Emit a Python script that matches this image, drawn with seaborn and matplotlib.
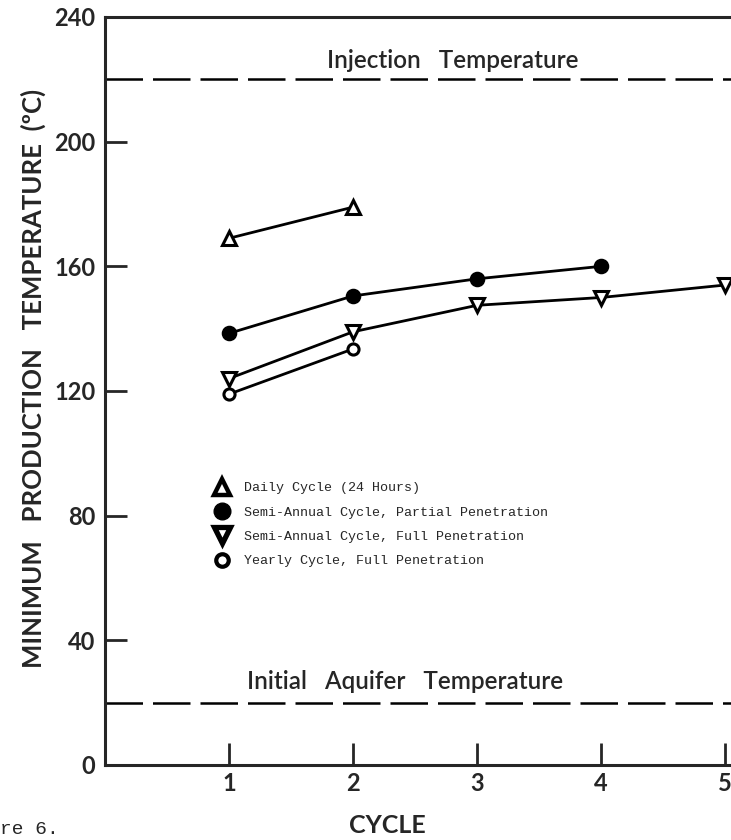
import seaborn as sns
import matplotlib.pyplot as plt
from matplotlib.lines import Line2D

# values
daily_x = [1, 2]
daily_y = [169, 179]
semi_partial_x = [1, 2, 3, 4]
semi_partial_y = [138.5, 150.5, 156, 160]
semi_full_x = [1, 2, 3, 4, 5]
semi_full_y = [124, 139, 147.5, 150, 154]
yearly_x = [1, 2]
yearly_y = [119, 133.5]

injection_temp = 220
aquifer_temp = 20

legend_labels = ["Daily Cycle (24 Hours)",
                 "Semi-Annual Cycle, Partial Penetration",
                 "Semi-Annual Cycle, Full Penetration",
                 "Yearly Cycle, Full Penetration"]

sns.set_style("ticks")
plt.rcParams['font.family'] = ['Lato', 'DejaVu Sans']

fig = plt.figure(figsize=(7.31, 8.4), dpi=100)
ax = fig.add_axes([105/731, 1-765/840, 645/731, 748/840])

lw = 2.0
mew = 2.2
sns.lineplot(x=daily_x, y=daily_y, ax=ax, color='black', linewidth=lw,
             marker='^', markersize=10, markerfacecolor='white',
             markeredgecolor='black', markeredgewidth=mew, legend=False)
sns.lineplot(x=semi_partial_x, y=semi_partial_y, ax=ax, color='black', linewidth=lw,
             marker='o', markersize=9, markerfacecolor='black',
             markeredgecolor='black', markeredgewidth=mew, legend=False)
sns.lineplot(x=semi_full_x, y=semi_full_y, ax=ax, color='black', linewidth=lw,
             marker='v', markersize=10, markerfacecolor='white',
             markeredgecolor='black', markeredgewidth=mew, legend=False)
sns.lineplot(x=yearly_x, y=yearly_y, ax=ax, color='black', linewidth=lw,
             marker='o', markersize=8, markerfacecolor='white',
             markeredgecolor='black', markeredgewidth=mew, legend=False)

# reference temperatures
ax.axhline(injection_temp, color='black', linewidth=1.8, linestyle=(0, (15, 4)))
ax.axhline(aquifer_temp, color='black', linewidth=1.8, linestyle=(0, (15, 4)))
ax.text(2.8, injection_temp + 2.5, "Injection   Temperature", ha='center', va='bottom',
        fontsize=17.5, fontweight='semibold')
ax.text(2.42, aquifer_temp + 3, "Initial   Aquifer   Temperature", ha='center', va='bottom',
        fontsize=17.5, fontweight='semibold')

ax.set_xlim(0, 5.2)
ax.set_ylim(0, 240)
ax.set_xticks([1, 2, 3, 4, 5])
ax.set_yticks([0, 40, 80, 120, 160, 200, 240])
ax.tick_params(direction='in', length=16, width=2, labelsize=17, pad=7)
ax.tick_params(axis='x', pad=5)
for lab in ax.get_xticklabels() + ax.get_yticklabels():
    lab.set_fontweight('bold')

for s in ['top', 'left', 'bottom']:
    ax.spines[s].set_linewidth(2.2)
ax.spines['right'].set_visible(False)

ax.set_xlabel("CYCLE", fontsize=18, fontweight='bold')
ax.xaxis.set_label_coords((387-105)/645, -(814-765)/748)
ax.set_ylabel("MINIMUM   PRODUCTION   TEMPERATURE  (ºC)", fontsize=18.5, fontweight='bold')
ax.yaxis.set_label_coords(-(105-46)/645, (765-378)/748)

handles = [
    Line2D([], [], ls='none', marker='^', ms=12, mfc='white', mec='black', mew=3.2),
    Line2D([], [], ls='none', marker='o', ms=12, mfc='black', mec='black', mew=1),
    Line2D([], [], ls='none', marker='v', ms=12, mfc='white', mec='black', mew=3.8),
    Line2D([], [], ls='none', marker='o', ms=9, mfc='white', mec='black', mew=3),
]
ax.legend(handles, legend_labels, loc='upper left',
          bbox_to_anchor=((215-105)/645, (765-482)/748),
          frameon=False, borderpad=0, borderaxespad=0, handlelength=1.0,
          handletextpad=1.2, labelspacing=0.9,
          prop={'family': 'Liberation Mono', 'size': 9.6})

fig.text(0.0, 1-830/840, "re 6.", fontsize=14, family='Liberation Mono', va='center')

fig.savefig("out.png", dpi=100)
